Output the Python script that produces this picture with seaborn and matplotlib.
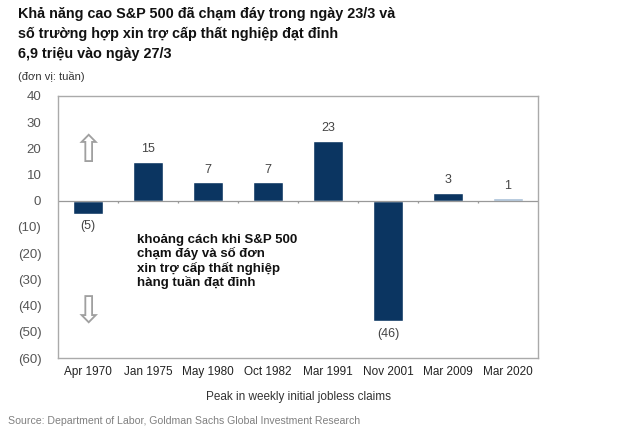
import matplotlib
matplotlib.use("Agg")
import matplotlib.pyplot as plt
import seaborn as sns
import numpy as np
import pandas as pd

# data
peaks = ["Apr 1970", "Jan 1975", "May 1980", "Oct 1982", "Mar 1991",
         "Nov 2001", "Mar 2009", "Mar 2020"]
weeks = [-5, 15, 7, 7, 23, -46, 3, 1]
bar_labels = ["(5)", "15", "7", "7", "23", "(46)", "3", "1"]
yticks = [40, 30, 20, 10, 0, -10, -20, -30, -40, -50, -60]
ytick_labels = ["40", "30", "20", "10", "0", "(10)", "(20)", "(30)", "(40)", "(50)", "(60)"]

title = ("Khả năng cao S&P 500 đã chạm đáy trong ngày 23/3 và\n"
         "số trường hợp xin trợ cấp thất nghiệp đạt đỉnh\n"
         "6,9 triệu vào ngày 27/3")
note = ("khoảng cách khi S&P 500\nchạm đáy và số đơn\n"
        "xin trợ cấp thất nghiệp\nhàng tuần đạt đỉnh")

df = pd.DataFrame({"peak": peaks, "weeks": weeks})

sns.set_theme(style="white")
plt.rcParams['font.family'] = ['Liberation Sans', 'DejaVu Sans']

navy = "#0b3561"
colors = [navy] * 7 + ["#a9c0d8"]

fig = plt.figure(figsize=(6.4, 4.38), dpi=100)
ax = fig.add_axes([58 / 640, 1 - 358 / 438, 480 / 640, 262 / 438])

sns.barplot(data=df, x="peak", y="weeks", hue="peak", palette=colors,
            legend=False, width=0.5, saturation=1, ax=ax)

ax.set_ylim(-60, 40)
ax.set_xlim(-0.5, len(peaks) - 0.5)
ax.set_yticks(yticks)
ax.set_yticklabels(ytick_labels)
ax.tick_params(axis="y", labelsize=9.5, colors="#555555", length=0, pad=12)
ax.tick_params(axis="x", labelsize=8.5, colors="#222222", length=0, pad=6)
ax.set_ylabel("")
ax.set_xlabel("Peak in weekly initial jobless claims", fontsize=8.5,
              color="#333333", labelpad=9)

for s in ax.spines.values():
    s.set_color("#aaaaaa")
    s.set_linewidth(1)

# zero line with small tick marks between categories
ax.axhline(0, color="#999999", lw=0.9, zorder=1)
bounds = np.arange(len(peaks) - 1) + 0.5
ax.vlines(bounds, -1.0, 0, color="#999999", lw=0.9)

# value labels
for i, (v, lab) in enumerate(zip(weeks, bar_labels)):
    if v >= 0:
        ax.text(i, v + 2.5, lab, ha="center", va="bottom", fontsize=9, color="#444444")
    else:
        ax.text(i, v - 2.5, lab, ha="center", va="top", fontsize=9, color="#444444")

# outline arrows and note
ax.text(0, 18.5, "⇧", ha="center", va="center", fontsize=27, color="#a0a0a0",
        family="DejaVu Sans")
ax.text(0, -43, "⇩", ha="center", va="center", fontsize=27, color="#a0a0a0",
        family="DejaVu Sans")
ax.text(0.82, -12.5, note, ha="left", va="top", fontsize=9.5, color="#111111",
        fontweight="bold", linespacing=1.15)

fig.text(18 / 640, 1 - 7 / 438, title, ha="left", va="top", fontsize=10.4,
         fontweight="bold", color="#111111", linespacing=1.55)
fig.text(18 / 640, 1 - 77 / 438, "(đơn vị: tuần)", ha="left", va="center",
         fontsize=8, color="#333333")
fig.text(8 / 640, 1 - 421 / 438,
         "Source: Department of Labor, Goldman Sachs Global Investment Research",
         ha="left", va="center", fontsize=7.6, color="#808080")

fig.savefig("out.png", dpi=100)
